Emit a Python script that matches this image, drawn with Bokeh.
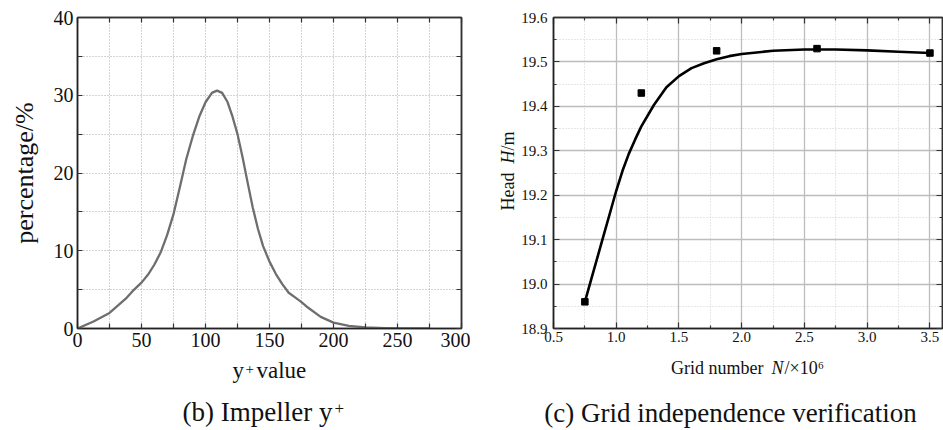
import numpy as np
from bokeh.plotting import figure
from bokeh.layouts import row, column
from bokeh.models import Range1d, FixedTicker, LinearAxis, Label, CustomJSTickFormatter, PrintfTickFormatter
from bokeh.embed import file_html
from bokeh.resources import INLINE

FONT = "Liberation Serif"

# ---------------- Panel (b): Impeller y+ distribution ----------------
yplus = [0, 12.5, 25, 37.5, 43, 50, 55, 60, 65, 70, 75, 80, 85, 90, 95, 100, 105, 109,
         113, 117, 121, 125, 129, 133, 137, 141, 145, 150, 155, 160, 165, 170, 175,
         180, 190, 200, 212, 225, 240, 255, 275]
percentage = [0, 0.9, 2.0, 3.8, 4.8, 5.9, 6.9, 8.2, 9.8, 12.0, 14.7, 18.2, 21.8, 24.7, 27.2,
              29.1, 30.3, 30.6, 30.3, 29.2, 27.3, 25.0, 22.0, 18.7, 15.5, 12.8, 10.6, 8.6,
              7.0, 5.7, 4.6, 4.0, 3.4, 2.7, 1.5, 0.75, 0.35, 0.15, 0.06, 0.02, 0]
b_xticks = [0, 50, 100, 150, 200, 250, 300]
b_xminor = [25, 75, 125, 175, 225, 275]
b_yticks = [0, 10, 20, 30, 40]
b_yminor = [5, 15, 25, 35]

# ---------------- Panel (c): Grid independence ----------------
grid_n = [0.75, 1.2, 1.8, 2.6, 3.5]
head = [18.96, 19.43, 19.525, 19.53, 19.52]
fit_n = [0.75, 0.8, 0.85, 0.9, 0.95, 1.0, 1.05, 1.1, 1.15, 1.2, 1.3, 1.4, 1.5, 1.6, 1.7,
         1.8, 1.9, 2.0, 2.25, 2.5, 2.75, 3.0, 3.25, 3.5]
fit_head = [18.96, 19.01, 19.06, 19.11, 19.16, 19.21, 19.255, 19.293, 19.325, 19.355, 19.403,
            19.443, 19.468, 19.486, 19.497, 19.506, 19.513, 19.518, 19.525, 19.528, 19.528,
            19.526, 19.523, 19.52]
c_xticks = [0.5, 1.0, 1.5, 2.0, 2.5, 3.0, 3.5]
c_xminor = [0.75, 1.25, 1.75, 2.25, 2.75, 3.25]
c_yticks = [18.9, 19.0, 19.1, 19.2, 19.3, 19.4, 19.5, 19.6]
c_yminor = [18.95, 19.05, 19.15, 19.25, 19.35, 19.45, 19.55]

TOP, BOTTOM = 17, 27   # shared top/bottom borders of the upper row


def blank_fmt():
    return CustomJSTickFormatter(code="return ''")


def style_axis(ax, tin, tmin, font_size, label_standoff):
    ax.major_tick_in = tin
    ax.major_tick_out = 0
    ax.minor_tick_in = tmin
    ax.minor_tick_out = 0
    ax.axis_line_color = "#222222"
    ax.axis_line_width = 1.5
    ax.major_tick_line_color = "#333333"
    ax.minor_tick_line_color = "#333333"
    ax.major_tick_line_width = 1.2
    ax.minor_tick_line_width = 1.2
    ax.major_label_text_font = FONT
    ax.major_label_text_font_size = font_size
    ax.major_label_text_color = "#111111"
    ax.major_label_standoff = label_standoff


def lab(p, text, x, y, size, style="normal", angle=0, align="left"):
    # (x, y): screen position of the text's left/centre edge and vertical middle
    p.add_layout(Label(x=x, y=y, x_units="screen", y_units="screen", text=text,
                       text_font=FONT, text_font_size=size, text_font_style=style,
                       text_color="#111111", angle=angle, text_align=align,
                       text_baseline="middle"))


def blank_fig(w, h, top=0, bottom=0):
    f = figure(width=w, height=h, x_range=Range1d(0, 1), y_range=Range1d(0, 1),
               x_axis_type=None, y_axis_type=None, output_backend="svg",
               toolbar_location=None, min_border_left=0, min_border_right=0,
               min_border_top=top, min_border_bottom=bottom)
    f.outline_line_color = None
    f.background_fill_color = "white"
    f.border_fill_color = "white"
    return f


# ----- figure b -----
p1 = figure(width=470, height=355, x_range=Range1d(0, 300), y_range=Range1d(0, 40),
            output_backend="svg", toolbar_location=None,
            min_border_left=77, min_border_right=9, min_border_top=TOP, min_border_bottom=BOTTOM)
p1.line(yplus, percentage, line_color="#6e6e6e", line_width=2.3, line_join="round")

bx = FixedTicker(ticks=b_xticks, minor_ticks=b_xminor)
by = FixedTicker(ticks=b_yticks, minor_ticks=b_yminor)
p1.xaxis.ticker = bx
p1.yaxis.ticker = by
for ax in list(p1.xaxis) + list(p1.yaxis):
    style_axis(ax, 5, 5, "20px", 4)
p1.add_layout(LinearAxis(ticker=bx, formatter=blank_fmt()), "above")
p1.add_layout(LinearAxis(ticker=by, formatter=blank_fmt()), "right")
for ax in list(p1.above) + list(p1.right):
    style_axis(ax, 5, 5, "1px", 0)
    ax.axis_line_color = "#333333"

p1.yaxis[0].axis_label = "percentage/%"
p1.yaxis[0].axis_label_text_font = FONT
p1.yaxis[0].axis_label_text_font_size = "26px"
p1.yaxis[0].axis_label_text_font_style = "normal"
p1.yaxis[0].axis_label_text_color = "#111111"
p1.yaxis[0].axis_label_standoff = 12

for g in (p1.xgrid[0], p1.ygrid[0]):
    g.grid_line_color = "#a8a8a8"
    g.grid_line_dash = "1 2"
    g.grid_line_width = 1
    g.minor_grid_line_color = "#a8a8a8"
    g.minor_grid_line_dash = "1 2"
    g.minor_grid_line_width = 1
p1.outline_line_color = "#333333"
p1.outline_line_width = 1.5
p1.background_fill_color = "white"
p1.border_fill_color = "white"

# ----- vertical strip holding the y label of (c); y measured up from frame bottom -----
vstrip = blank_fig(46, 355, top=TOP, bottom=BOTTOM)
lab(vstrip, "Head", 37, 118, "18px", angle=np.pi / 2)
lab(vstrip, "H", 37, 165, "18px", style="italic", angle=np.pi / 2)
lab(vstrip, "/m", 37, 178, "18px", angle=np.pi / 2)

# ----- figure c -----
p2 = figure(width=427, height=355, x_range=Range1d(0.5, 3.6), y_range=Range1d(18.9, 19.6),
            output_backend="svg", toolbar_location=None,
            min_border_left=37, min_border_right=1, min_border_top=TOP, min_border_bottom=BOTTOM)
p2.line(fit_n, fit_head, line_color="black", line_width=2.6, line_join="round")
p2.scatter(grid_n, head, marker="square", size=6.5, fill_color="black", line_color="black")

cx = FixedTicker(ticks=c_xticks, minor_ticks=c_xminor)
cy = FixedTicker(ticks=c_yticks, minor_ticks=c_yminor)
p2.xaxis.ticker = cx
p2.yaxis.ticker = cy
p2.xaxis.formatter = PrintfTickFormatter(format="%.1f")
p2.yaxis.formatter = PrintfTickFormatter(format="%.1f")
for ax in list(p2.xaxis) + list(p2.yaxis):
    style_axis(ax, 6, 3, "15px", 6)
p2.xaxis[0].major_label_standoff = 3
p2.add_layout(LinearAxis(ticker=cx, formatter=blank_fmt()), "above")
p2.add_layout(LinearAxis(ticker=cy, formatter=blank_fmt()), "right")
for ax in list(p2.above) + list(p2.right):
    style_axis(ax, 6, 3, "1px", 0)
    ax.axis_line_color = "#333333"

for g in (p2.xgrid[0], p2.ygrid[0]):
    g.grid_line_color = "#bdbdbd"
    g.grid_line_width = 1.3
    g.minor_grid_line_color = "#cfcfcf"
    g.minor_grid_line_dash = "1 2"
    g.minor_grid_line_width = 1
p2.outline_line_color = "#333333"
p2.outline_line_width = 1.5
p2.background_fill_color = "white"
p2.border_fill_color = "white"

# ----- bottom strip: x-axis titles and captions (y = text middle, up from strip bottom) -----
strip = blank_fig(943, 75)
# x label of (b): y^+ value
lab(strip, "y", 232, 60, "23px")
lab(strip, "+", 245, 62, "15px")
lab(strip, "value", 256, 60, "23px")
# caption (b)
lab(strip, "(b) Impeller y", 182, 19, "27px")
lab(strip, "+", 334, 22, "17px")
# x label of (c): Grid number  N/x10^6
lab(strip, "Grid number", 763, 63, "18px", align="right")
lab(strip, "N", 771, 63, "18px", style="italic")
lab(strip, "/\u00d710\u2076", 784, 63, "18px")
# caption (c)
lab(strip, "(c) Grid independence verification", 730, 18, "27px", align="center")

layout = column(row(p1, vstrip, p2), strip)
open("out.html", "w").write(file_html(layout, INLINE))
